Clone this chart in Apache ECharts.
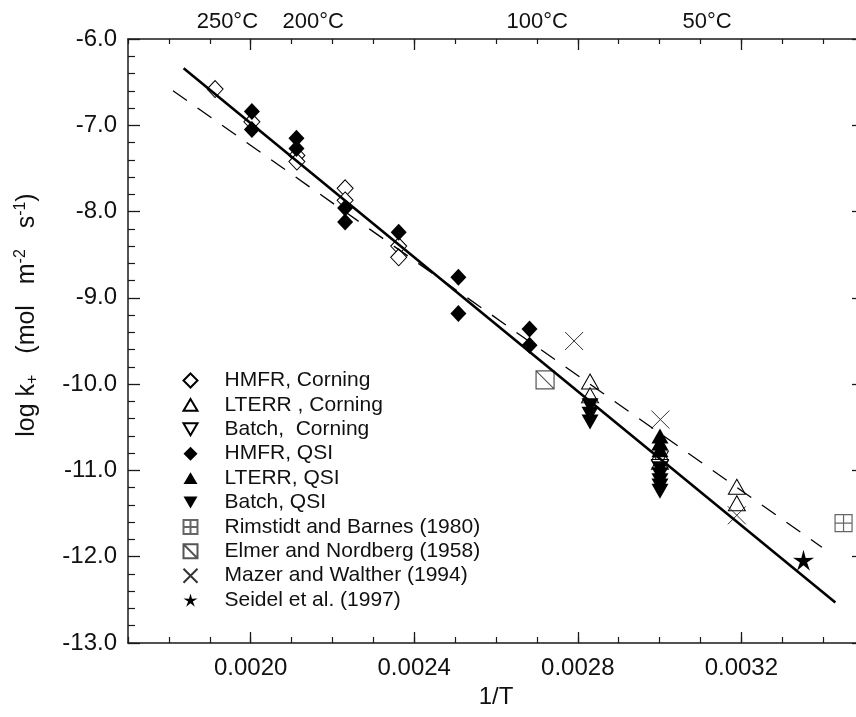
<!DOCTYPE html>
<html>
<head>
<meta charset="utf-8">
<script src="https://cdn.jsdelivr.net/npm/echarts@6/dist/echarts.min.js"></script>
<style>html,body{margin:0;padding:0;background:#fff}#c{width:856px;height:717px}</style>
</head>
<body>
<div id="c"></div>
<script>
// ---- axis setup ----
const xMin = 0.0017, xMax = 0.0035;
const yMin = -13, yMax = -6;
const xMajorTicks = [0.0020, 0.0024, 0.0028, 0.0032];
const xMinorTicks = [0.0017,0.0018,0.0019,0.0020,0.0021,0.0022,0.0023,0.0024,0.0025,0.0026,0.0027,0.0028,0.0029,0.0030,0.0031,0.0032,0.0033,0.0034,0.0035];
const topLabelPos = [0.001943, 0.002153, 0.002701, 0.003116];
const topLabels = ['250°C', '200°C', '100°C', '50°C'];

// ---- data ----
const hmfrCorningX = [0.001913, 0.002003, 0.002113, 0.002113, 0.002231, 0.002231, 0.002362, 0.002362];
const hmfrCorningY = [-6.58, -6.96, -7.35, -7.42, -7.73, -7.87, -8.40, -8.53];
const lterrCorningX = [0.00283, 0.00283, 0.003001, 0.003001, 0.003189, 0.003189];
const lterrCorningY = [-9.97, -10.13, -10.80, -10.90, -11.19, -11.38];
const batchCorningX = [0.003001, 0.003001];
const batchCorningY = [-10.86, -10.96];
const hmfrQsiX = [0.002003, 0.002003, 0.002112, 0.002112, 0.002231, 0.002231, 0.002362, 0.002508, 0.002508, 0.002682, 0.002682];
const hmfrQsiY = [-6.84, -7.05, -7.15, -7.27, -7.96, -8.12, -8.24, -8.76, -9.18, -9.36, -9.55];
const lterrQsiX = [0.003001, 0.003001, 0.003001];
const lterrQsiY = [-10.60, -10.68, -10.76];
const batchQsiX = [0.00283, 0.00283, 0.00283, 0.003001, 0.003001, 0.003001, 0.003001, 0.003001];
const batchQsiY = [-10.25, -10.35, -10.44, -10.98, -11.05, -11.12, -11.18, -11.24];
const rimstidtX = [0.00345];
const rimstidtY = [-11.61];
const elmerX = [0.00272];
const elmerY = [-9.95];
const mazerX = [0.002791, 0.003002, 0.003189];
const mazerY = [-9.50, -10.41, -11.52];
const seidelX = [0.003352];
const seidelY = [-12.04];
const solidFitX = [0.001836, 0.00343];
const solidFitY = [-6.34, -12.53];
const dashFitX = [0.00181, 0.003397];
const dashFitY = [-6.60, -11.89];

const legendNames = ['HMFR, Corning', 'LTERR , Corning', 'Batch,  Corning', 'HMFR, QSI', 'LTERR, QSI', 'Batch, QSI',
  'Rimstidt and Barnes (1980)', 'Elmer and Nordberg (1958)', 'Mazer and Walther (1994)', 'Seidel et al. (1997)'];

function zip(xs, ys) { return xs.map((x, i) => [x, ys[i]]); }

// symbol shapes
const triUp = 'path://M10,0L20,17L0,17Z';
const triDown = 'path://M0,0L20,0L10,17Z';
const boxPlus = 'path://M0,0H20V20H0Z M10,0V20 M0,10H20';
const boxDiag = 'path://M0,0H20V20H0Z M0,0L20,20';
const cross = 'path://M0,0L20,20M20,0L0,20';
function starPath() {
  let p = 'path://';
  for (let i = 0; i < 10; i++) {
    const r = i % 2 === 0 ? 10 : 3.4;
    const a = -Math.PI / 2 + i * Math.PI / 5;
    p += (i === 0 ? 'M' : 'L') + (10 + r * Math.cos(a)).toFixed(2) + ',' + (10 + r * Math.sin(a)).toFixed(2);
  }
  return p + 'Z';
}
const star = starPath();

const FONT = '"Liberation Sans", Arial, Helvetica, sans-serif';
const hollow = { color: '#fff', borderColor: '#000', borderWidth: 1, opacity: 1 };
const filled = { color: '#000', borderColor: '#000', borderWidth: 0, opacity: 1 };

function sc(name, xs, ys, symbol, size, style, z) {
  return { type: 'scatter', name, data: zip(xs, ys), symbol, symbolSize: size, itemStyle: style, z: z || 2,
    emphasis: { disabled: true } };
}

const chart = echarts.init(document.getElementById('c'), null, { renderer: 'canvas' });
const axisLineStyle = { color: '#1a1a1a', width: 1.5 };

chart.setOption({
  animation: false,
  backgroundColor: '#fff',
  textStyle: { fontFamily: FONT },
  grid: { left: 128, right: -8, top: 39, bottom: 74, outerBoundsMode: 'none', containLabel: false },
  legend: {
    data: legendNames,
    orient: 'vertical',
    left: 176, top: 365,
    itemWidth: 14, itemHeight: 14,
    itemGap: 3.4,
    selectedMode: false,
    textStyle: { fontSize: 21, color: '#111', fontFamily: FONT, lineHeight: 18, padding: [0, 0, 0, 22] }
  },
  xAxis: [
    { type: 'value', position: 'bottom', min: xMin, max: xMax, gridIndex: 0,
      axisLine: { show: true, lineStyle: axisLineStyle, onZero: false },
      axisTick: { show: true, inside: true, length: 11, customValues: xMajorTicks, lineStyle: { color: '#1a1a1a', width: 1.3 } },
      axisLabel: { customValues: xMajorTicks, fontSize: 24, color: '#111', margin: 13, formatter: v => v.toFixed(4) },
      splitLine: { show: false },
      name: '1/T', nameLocation: 'middle', nameGap: 41, nameTextStyle: { fontSize: 24, color: '#111' } },
    { type: 'value', position: 'top', min: xMin, max: xMax, gridIndex: 0,
      axisLine: { show: true, lineStyle: axisLineStyle, onZero: false },
      axisTick: { show: true, inside: true, length: 11, customValues: xMajorTicks, lineStyle: { color: '#1a1a1a', width: 1.3 } },
      axisLabel: { customValues: topLabelPos, fontSize: 22, color: '#111', margin: 6,
        formatter: v => topLabels[topLabelPos.indexOf(v)] || '' },
      splitLine: { show: false } },
    { type: 'value', position: 'bottom', min: xMin, max: xMax, gridIndex: 0,
      axisLine: { show: false, onZero: false },
      axisTick: { show: true, inside: true, length: 6, customValues: xMinorTicks, lineStyle: { color: '#1a1a1a', width: 1.2 } },
      axisLabel: { show: false }, splitLine: { show: false } },
    { type: 'value', position: 'top', min: xMin, max: xMax, gridIndex: 0,
      axisLine: { show: false, onZero: false },
      axisTick: { show: true, inside: true, length: 5, customValues: xMinorTicks, lineStyle: { color: '#1a1a1a', width: 1.2 } },
      axisLabel: { show: false }, splitLine: { show: false } }
  ],
  yAxis: [
    { type: 'value', position: 'left', min: yMin, max: yMax, interval: 1,
      axisLine: { show: true, lineStyle: axisLineStyle, onZero: false },
      axisTick: { show: true, inside: true, length: 12, lineStyle: { color: '#1a1a1a', width: 1.3 } },
      minorTick: { show: true, splitNumber: 5, length: 7, lineStyle: { color: '#1a1a1a', width: 1.2 } },
      axisLabel: { fontSize: 24, color: '#111', margin: 11, formatter: v => v.toFixed(1) },
      splitLine: { show: false }, minorSplitLine: { show: false } },
    { type: 'value', position: 'right', min: yMin, max: yMax, interval: 1,
      axisLine: { show: true, lineStyle: axisLineStyle, onZero: false },
      axisTick: { show: true, inside: true, length: 12, lineStyle: { color: '#1a1a1a', width: 1.3 } },
      minorTick: { show: true, splitNumber: 5, length: 7, lineStyle: { color: '#1a1a1a', width: 1.2 } },
      axisLabel: { show: false }, splitLine: { show: false } }
  ],
  series: [
    sc(legendNames[0], hmfrCorningX, hmfrCorningY, 'diamond', [16, 17], hollow, 2),
    sc(legendNames[1], lterrCorningX, lterrCorningY, triUp, [17, 15], hollow, 2),
    sc(legendNames[2], batchCorningX, batchCorningY, triDown, [17, 15], hollow, 2),
    sc(legendNames[3], hmfrQsiX, hmfrQsiY, 'diamond', [16, 17], filled, 3),
    sc(legendNames[4], lterrQsiX, lterrQsiY, triUp, [17, 15], filled, 3),
    sc(legendNames[5], batchQsiX, batchQsiY, triDown, [17, 15], filled, 3),
    sc(legendNames[6], rimstidtX, rimstidtY, boxPlus, 17, { color: '#fff', borderColor: '#666', borderWidth: 1.2, opacity: 1 }, 2),
    sc(legendNames[7], elmerX, elmerY, boxDiag, 18, { color: '#fff', borderColor: '#555', borderWidth: 1.2, opacity: 1 }, 2),
    sc(legendNames[8], mazerX, mazerY, cross, 18, { color: 'none', borderColor: '#333', borderWidth: 1, opacity: 1 }, 2),
    sc(legendNames[9], seidelX, seidelY, star, 21, filled, 3),
    { type: 'line', name: 'fit', data: zip(solidFitX, solidFitY), symbol: 'none', z: 5,
      lineStyle: { color: '#000', width: 2.6 }, silent: true },
    { type: 'line', name: 'fit2', data: zip(dashFitX, dashFitY), symbol: 'none', z: 5,
      lineStyle: { color: '#000', width: 1.3, type: [17, 13] }, silent: true }
  ],
  graphic: [
    { type: 'text', x: 27, y: 315, rotation: Math.PI / 2, z: 10,
      style: {
        text: 'log k{sub|+}   (mol   m{sup|-2}   s{sup|-1})',
        fontSize: 25, fontFamily: FONT, fill: '#111', align: 'center', verticalAlign: 'middle',
        lineHeight: 28,
        rich: {
          sub: { fontSize: 16, verticalAlign: 'bottom', lineHeight: 16, fill: '#111', fontFamily: FONT },
          sup: { fontSize: 16, verticalAlign: 'top', lineHeight: 16, fill: '#111', fontFamily: FONT }
        }
      } }
  ]
});
</script>
</body>
</html>
